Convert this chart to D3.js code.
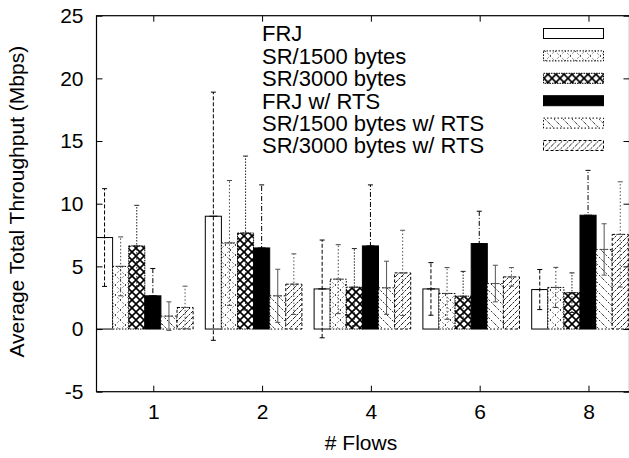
<!DOCTYPE html>
<html>
<head>
<meta charset="utf-8">
<script src="https://cdn.jsdelivr.net/npm/d3@7"></script>
<style>
  body { margin: 0; background: #fff; }
  svg { display: block; font-family: "Liberation Sans", Arial, sans-serif; }
</style>
</head>
<body>
<div id="viz"></div>
<script>
// # flows on the x axis
const flows = ["1", "2", "4", "6", "8"];
const seriesNames = ["FRJ", "SR/1500 bytes", "SR/3000 bytes", "FRJ w/ RTS",
  "SR/1500 bytes w/ RTS", "SR/3000 bytes w/ RTS"];

// mean throughput (Mbps), one array per series, in flows order
const frj = [7.3, 9.0, 3.2, 3.2, 3.15];
const sr1500 = [5.0, 6.87, 3.98, 2.84, 3.32];
const sr3000 = [6.63, 7.66, 3.34, 2.62, 2.9];
const frjRts = [2.65, 6.47, 6.63, 6.82, 9.08];
const sr1500Rts = [1.03, 2.65, 3.29, 3.63, 6.35];
const sr3000Rts = [1.72, 3.58, 4.48, 4.16, 7.55];

// error (half range of the error bars)
const frjErr = [3.9, 9.9, 3.9, 2.1, 1.6];
const sr1500Err = [2.35, 4.98, 2.75, 2.06, 1.6];
const sr3000Err = [3.24, 6.14, 3.08, 1.98, 1.58];
const frjRtsErr = [2.18, 5.03, 4.87, 2.58, 3.58];
const sr1500RtsErr = [1.14, 2.12, 2.12, 1.46, 2.05];
const sr3000RtsErr = [1.7, 2.42, 3.4, 0.74, 4.2];

const yTicks = [-5, 0, 5, 10, 15, 20, 25];

const means = [frj, sr1500, sr3000, frjRts, sr1500Rts, sr3000Rts];
const errs = [frjErr, sr1500Err, sr3000Err, frjRtsErr, sr1500RtsErr, sr3000RtsErr];

const WIDTH = 629, HEIGHT = 458;
const LEFT = 96.5, RIGHT = 629.5, TOP = 15.7, BOTTOM = 391.7;
const BAR_W = 0.148;      // bar width in cluster units
const CLUSTER_OFF = -0.522;
const FS = 21;

const svg = d3.select("#viz").append("svg")
  .attr("width", WIDTH)
  .attr("height", HEIGHT);

// fill patterns similar to gnuplot's postscript ones
const defs = svg.append("defs");
function hatch(id, size, dirs, sw, dash, color) {
  const p = defs.append("pattern")
    .attr("id", id)
    .attr("patternUnits", "userSpaceOnUse")
    .attr("width", size).attr("height", size);
  p.append("rect").attr("width", size).attr("height", size).attr("fill", "#fff");
  dirs.forEach(dir => {
    const segs = dir === "/"
      ? [[0, size, size, 0], [-size, size, 0, 0], [size, size, 2 * size, 0]]
      : [[0, 0, size, size], [-size, 0, 0, size], [size, 0, 2 * size, size]];
    segs.forEach(s => p.append("line")
      .attr("x1", s[0]).attr("y1", s[1]).attr("x2", s[2]).attr("y2", s[3])
      .attr("stroke", color).attr("stroke-width", sw)
      .attr("stroke-dasharray", dash));
  });
}
hatch("p1", 10, ["/", "\\"], 1, "1.5,2", "#444");
hatch("p2", 8, ["/", "\\"], 1.6, null, "#000");
hatch("p4", 9, ["\\"], 1, "2,1.5", "#333");
hatch("p5", 6, ["/"], 1, "2.5,1", "#222");

const fills = ["#fff", "url(#p1)", "url(#p2)", "#000", "url(#p4)", "url(#p5)"];
const outlineDash = [null, "1.5,1.5", "1.5,1", null, "1.5,2", "3,2"];
const errDash = ["4,2", "1.5,2", "1.5,1.5", "5,2,1,2", null, "1.5,2"];
const errColor = ["#000", "#444", "#222", "#000", "#555", "#555"];

const x = d3.scaleLinear().domain([CLUSTER_OFF, 4.377]).range([LEFT, RIGHT]);
const y = d3.scaleLinear().domain([-5, 25]).range([BOTTOM, TOP]);

const plot = svg.append("g");
plot.append("clipPath").attr("id", "clip")
  .append("rect").attr("x", LEFT).attr("y", TOP)
  .attr("width", RIGHT - LEFT).attr("height", BOTTOM - TOP);

const bars = [];
means.forEach((arr, s) => arr.forEach((v, i) => bars.push({s, i, v, e: errs[s][i]})));

const inner = plot.append("g").attr("clip-path", "url(#clip)");
inner.selectAll("rect.bar")
  .data(bars)
  .join("rect")
  .attr("class", "bar")
  .attr("x", d => x(d.i + CLUSTER_OFF + d.s * BAR_W))
  .attr("width", x(BAR_W) - x(0))
  .attr("y", d => y(d.v))
  .attr("height", d => y(0) - y(d.v))
  .attr("fill", d => fills[d.s])
  .attr("stroke", "#000")
  .attr("stroke-width", 1)
  .attr("stroke-dasharray", d => outlineDash[d.s]);

const eb = inner.selectAll("g.err")
  .data(bars)
  .join("g")
  .attr("class", "err")
  .attr("transform", d => `translate(${x(d.i + CLUSTER_OFF + (d.s + 0.5) * BAR_W)},0)`)
  .attr("stroke", d => errColor[d.s])
  .attr("stroke-width", 1);
eb.append("line")
  .attr("y1", d => y(d.v - d.e)).attr("y2", d => y(d.v + d.e))
  .attr("stroke-dasharray", d => errDash[d.s]);
[d => d.v - d.e, d => d.v + d.e].forEach(f => eb.append("line")
  .attr("x1", -2.5).attr("x2", 2.5)
  .attr("y1", d => y(f(d))).attr("y2", d => y(f(d))));
eb.append("line")
  .attr("x1", -4).attr("x2", 4)
  .attr("y1", d => y(d.v)).attr("y2", d => y(d.v));

// axes with inward ticks, mirrored on top/right
svg.append("g")
  .attr("transform", `translate(${LEFT},0)`)
  .call(d3.axisLeft(y).tickValues(yTicks).tickSize(-6).tickPadding(13).tickFormat(d => String(d)));
svg.append("g")
  .attr("transform", `translate(${RIGHT},0)`)
  .call(d3.axisRight(y).tickValues(yTicks).tickSize(-6).tickFormat(""));
svg.append("g")
  .attr("transform", `translate(0,${BOTTOM})`)
  .call(d3.axisBottom(x).tickValues(d3.range(flows.length)).tickSize(-6).tickPadding(12)
    .tickFormat(i => flows[i]));
svg.append("g")
  .attr("transform", `translate(0,${TOP})`)
  .call(d3.axisTop(x).tickValues(d3.range(flows.length)).tickSize(-6).tickFormat(""));

svg.selectAll(".domain").remove();
svg.selectAll(".tick line").attr("stroke", "#000");
svg.selectAll(".tick text")
  .attr("font-family", "Liberation Sans, Arial, sans-serif")
  .attr("font-size", FS)
  .attr("fill", "#000");

svg.append("rect")
  .attr("x", LEFT).attr("y", TOP)
  .attr("width", RIGHT - LEFT).attr("height", BOTTOM - TOP)
  .attr("fill", "none").attr("stroke", "#000").attr("stroke-width", 1.2);

svg.append("text")
  .attr("transform", `translate(17,${(TOP + BOTTOM) / 2 - 2}) rotate(-90)`)
  .attr("text-anchor", "middle")
  .attr("dy", "0.35em")
  .attr("font-size", FS)
  .text("Average Total Throughput (Mbps)");

svg.append("text")
  .attr("x", 361).attr("y", 450)
  .attr("text-anchor", "middle")
  .attr("font-size", FS)
  .text("# Flows");

// legend
const leg = svg.append("g").selectAll("g")
  .data(seriesNames)
  .join("g")
  .attr("transform", (d, k) => `translate(0,${33.5 + k * 22.4})`);
leg.append("text")
  .attr("x", 262).attr("dy", "0.36em")
  .attr("font-size", FS + 1)
  .text(d => d);
leg.append("rect")
  .attr("x", 543.5).attr("y", -5).attr("width", 60).attr("height", 10)
  .attr("fill", (d, k) => fills[k])
  .attr("stroke", "#000")
  .attr("stroke-dasharray", (d, k) => outlineDash[k]);
</script>
</body>
</html>
